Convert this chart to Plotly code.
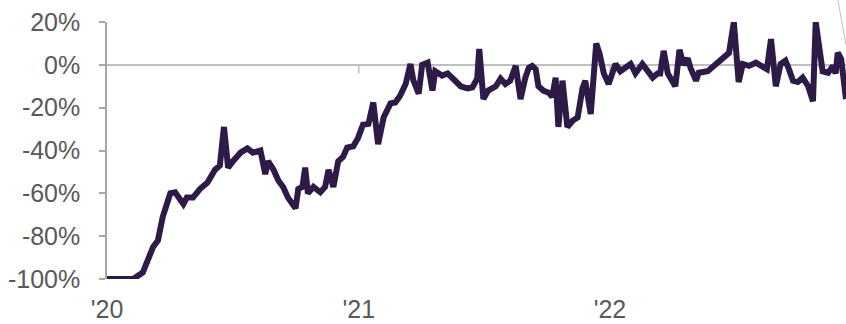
import plotly.graph_objects as go

# Daily-ish index readings (% change vs. baseline)
dates = [
    "2020-01-01", "2020-02-08", "2020-02-22", "2020-03-08", "2020-03-15", "2020-03-22",
    "2020-03-30", "2020-04-02", "2020-04-09", "2020-04-13", "2020-04-21", "2020-04-26",
    "2020-05-05", "2020-05-15", "2020-05-26", "2020-06-06", "2020-06-13", "2020-06-19",
    "2020-06-25", "2020-07-02", "2020-07-13", "2020-07-23", "2020-07-31", "2020-08-11",
    "2020-08-18", "2020-08-22", "2020-08-30", "2020-09-06", "2020-09-13", "2020-09-20",
    "2020-10-01", "2020-10-05", "2020-10-11", "2020-10-15", "2020-10-19", "2020-10-27",
    "2020-11-06", "2020-11-13", "2020-11-18", "2020-11-25", "2020-12-02", "2020-12-09",
    "2020-12-15", "2020-12-24", "2020-12-31", "2021-01-07", "2021-01-15", "2021-01-22",
    "2021-01-29", "2021-02-06", "2021-02-13", "2021-02-16", "2021-02-23", "2021-03-02",
    "2021-03-10", "2021-03-17", "2021-03-21", "2021-03-29", "2021-04-03", "2021-04-11",
    "2021-04-18", "2021-04-22", "2021-05-02", "2021-05-10", "2021-05-18", "2021-05-29",
    "2021-06-08", "2021-06-15", "2021-06-22", "2021-06-25", "2021-07-01", "2021-07-08",
    "2021-07-19", "2021-07-26", "2021-08-02", "2021-08-09", "2021-08-17", "2021-08-24",
    "2021-08-31", "2021-09-05", "2021-09-10", "2021-09-15", "2021-09-19", "2021-09-26",
    "2021-10-04", "2021-10-09", "2021-10-14", "2021-10-18", "2021-10-24", "2021-10-31",
    "2021-11-08", "2021-11-15", "2021-11-22", "2021-11-26", "2021-12-04", "2021-12-08",
    "2021-12-12", "2021-12-17", "2021-12-23", "2021-12-30", "2022-01-09", "2022-01-16",
    "2022-01-24", "2022-01-31", "2022-02-07", "2022-02-17", "2022-03-04", "2022-03-11",
    "2022-03-15", "2022-03-20", "2022-03-26", "2022-04-02", "2022-04-06", "2022-04-12",
    "2022-04-18", "2022-04-24", "2022-04-28", "2022-05-06", "2022-05-10", "2022-05-23",
    "2022-06-01", "2022-06-08", "2022-06-15", "2022-06-23", "2022-06-30", "2022-07-07",
    "2022-07-13", "2022-07-22", "2022-08-01", "2022-08-08", "2022-08-17", "2022-08-23",
    "2022-08-30", "2022-09-06", "2022-09-13", "2022-09-18", "2022-09-24", "2022-10-01",
    "2022-10-08", "2022-10-16", "2022-10-23", "2022-10-27", "2022-10-31", "2022-11-06",
    "2022-11-14", "2022-11-21", "2022-11-25", "2022-11-28", "2022-12-03", "2022-12-07",
    "2022-12-10",
]
values = [
    -100, -100, -97, -85, -82, -71,
    -63, -60, -59.5, -61, -65, -62,
    -62, -58, -55, -49, -47, -29,
    -48, -45, -41, -39, -41, -40,
    -51, -45, -49, -54, -57, -62,
    -67, -58, -57, -48, -60, -57,
    -59.5, -57, -49, -57, -45, -43,
    -38.6, -38, -34, -28, -27.6, -17.6,
    -37, -24.6, -20, -18, -17.6, -14.4,
    -9, 0.4, -7, -13.5, 0, 1,
    -12, -3, -5, -4, -6.5, -10,
    -11, -10.5, -6.5, 7.4, -16, -12,
    -10, -6.5, -9, -7.4, -0.5, -16,
    -6, -1.4, -0.5, -2, -10, -12,
    -13, -15, -6, -29, -7.4, -29,
    -26, -24.6, -11, -7.4, -23, -3,
    10, 5, -4, -9, 0.4, -3,
    -1.4, 0.4, -4, 0.4, -6, -4,
    -4, 6.5, -4, -8, -10, 7,
    0, 3, -1.4, -7.4, -3.7, -3,
    -0.5, 1, 3, 5.6, 20, -8,
    0.4, -0.5, 1, 0, -2, 12,
    -10, 0.4, 2, -2, -7.4, -8,
    -6, -10, -17, 20, 11, -3,
    -3.7, -0.5, -4, 5.6, 2.8, -6,
    -16,
]

year_ticks = ["2020-01-01", "2021-01-01", "2022-01-01"]
year_labels = ["'20", "'21", "'22"]
y_ticks = [-100, -80, -60, -40, -20, 0, 20]
y_labels = ["-100%", "-80%", "-60%", "-40%", "-20%", "0%", "20%"]

LINE = "#2e1a47"
AXIS = "#a6a6a6"
TEXT = "#595959"
FONT = "Liberation Sans, Arial, sans-serif"

fig = go.Figure()
fig.add_trace(go.Scatter(
    x=dates, y=values, mode="lines",
    line=dict(color=LINE, width=6),
    hoverinfo="skip", showlegend=False,
))

# small tick marks hanging from the zero line at each year boundary
for d in year_ticks[1:]:
    fig.add_shape(type="line", xref="x", yref="y", x0=d, x1=d, y0=0, y1=-4,
                  line=dict(color="#bfbfbf", width=1.5), layer="below")

# leader line entering from the upper right
fig.add_shape(type="line", xref="paper", yref="paper",
              x0=0.989, y0=1.086, x1=1.0, y1=0.91,
              line=dict(color="#bfbfbf", width=1))

fig.update_layout(
    width=846, height=324,
    margin=dict(l=107, r=0, t=22, b=45),
    paper_bgcolor="white", plot_bgcolor="white",
    font=dict(family=FONT, size=25, color=TEXT),
    xaxis=dict(
        type="date",
        range=["2020-01-01", "2022-12-10"],
        tickvals=year_ticks, ticktext=year_labels,
        showgrid=False, zeroline=False, showline=False,
        ticks="", ticklabelstandoff=13,
        tickfont=dict(family=FONT, size=25, color=TEXT),
    ),
    yaxis=dict(
        range=[-100, 20],
        tickvals=y_ticks, ticktext=y_labels,
        showgrid=False,
        zeroline=True, zerolinecolor="#bfbfbf", zerolinewidth=1.5,
        showline=True, linecolor=AXIS, linewidth=1.5,
        ticks="outside", ticklen=6, tickcolor=AXIS, tickwidth=1.5,
        tickfont=dict(family=FONT, size=25, color=TEXT),
        ticklabelstandoff=14,
    ),
)

fig.write_html("out.html")
